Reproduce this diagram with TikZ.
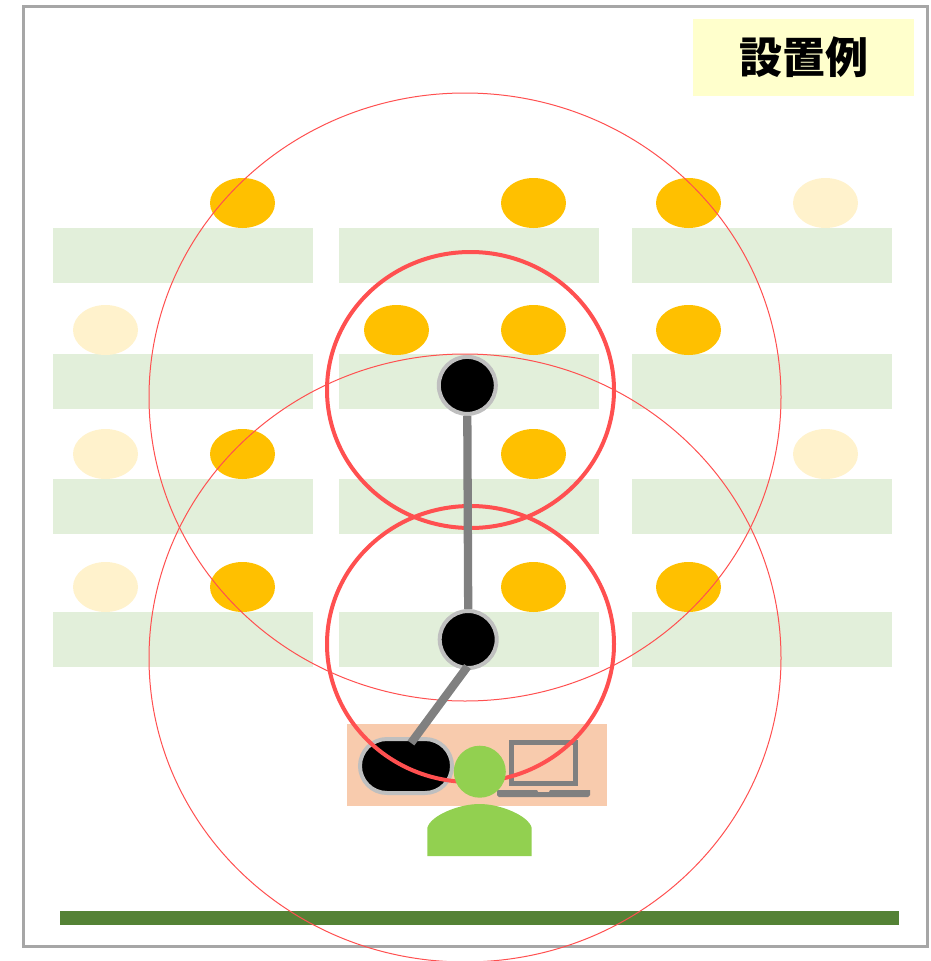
\documentclass[tikz,border=0pt]{standalone}
\usepackage{fontspec}
\newfontfamily\cjk{Noto Sans CJK JP}
\definecolor{deskgreen}{HTML}{E2EFDA}
\definecolor{seatfull}{HTML}{FFC000}
\definecolor{seatfree}{HTML}{FFF2CC}
\definecolor{rangered}{HTML}{FF5050}
\definecolor{linkgrey}{HTML}{808080}
\definecolor{hubrim}{HTML}{BFBFBF}
\definecolor{framegrey}{HTML}{A6A6A6}
\definecolor{basepeach}{HTML}{F8CBAD}
\definecolor{personlime}{HTML}{92D050}
\definecolor{wallgreen}{HTML}{548235}
\definecolor{notepale}{HTML}{FFFFCC}
\usetikzlibrary{shapes.geometric,shapes.misc}
\tikzset{
  seat/.style={ellipse,inner sep=0pt,minimum width=65pt,minimum height=50pt},
  hub/.style={circle,draw=hubrim,fill=black,line width=4pt,inner sep=0pt,minimum size=57pt},
  link/.style={draw=linkgrey,line width=8.3pt},
}
\begin{document}
\begin{tikzpicture}[x=1pt,y=-1pt]
        \useasboundingbox (0,0) rectangle (931,961);
        \draw[framegrey,line width=3pt] (23,6) rectangle (927,946);
        \node[fill=notepale,minimum width=221pt,minimum height=77pt,inner sep=0pt,font=\cjk\bfseries\fontsize{43}{43}\selectfont] (title) at (803.5,57.5) {設置例};
        % desks
        \foreach \y in {228,354,479,612}
            \foreach \x in {53,339,632}
                \fill[deskgreen] (\x,\y) rectangle ++(260,55);
        % seats
        \foreach \x/\y in {242.5/203,533.5/203,688.5/203,396.5/330,533.5/330,688.5/330,242.5/454,533.5/454,242.5/587,533.5/587,688.5/587}
            \node[seat,fill=seatfull] (seat\x-\y) at (\x,\y) {};
        \foreach \x/\y in {825.5/203,105.5/330,105.5/454,825.5/454,105.5/587}
            \node[seat,fill=seatfree] (free\x-\y) at (\x,\y) {};
        \fill[basepeach] (347,724) rectangle (607,806);
        \fill[wallgreen] (60,911) rectangle (899,925);
        % laptop
        \draw[linkgrey,line width=5pt] (511.5,742.5) rectangle (575.5,783.5);
        \fill[linkgrey] (497,790) -- (537,790) -- (538,792) -- (549,792) -- (550,790) -- (590,790) -- (590,795) -- (588,797) -- (499,797) -- (497,795) -- cycle;
        % base unit and access points
        \node[hub] (hubtop) at (467.3,385.4) {};
        \node[hub] (hubbottom) at (468.2,639.5) {};
        \node[rounded rectangle,draw=hubrim,fill=black,line width=4pt,inner sep=0pt,minimum width=92pt,minimum height=54pt] (baseunit) at (406,766) {};
        % ranges
        \draw[rangered,line width=1pt] (465,397) ellipse [x radius=316pt,y radius=304pt];
        \draw[rangered,line width=1pt] (465,658) ellipse [x radius=316pt,y radius=304pt];
        \draw[rangered,line width=4pt] (470.5,390) ellipse [x radius=143.5pt,y radius=138pt];
        \draw[rangered,line width=4pt] (470.5,644) ellipse [x radius=143.5pt,y radius=138pt];
        % cables
        \coordinate (unitjoin) at (411,743);
        \draw[link] (hubtop.south) -- (hubbottom.north);
        \draw[link] (467.5,666.5) -- (unitjoin);
        % person
        \node[circle,fill=personlime,inner sep=0pt,minimum size=52pt] (head) at (479.8,771.7) {};
        \fill[personlime] (427.3,856) -- (427.3,828) .. controls (430,816) and (458,804) .. (479.5,804) .. controls (501,804) and (529,816) .. (531.7,828) -- (531.7,856) -- cycle;
    \end{tikzpicture}
\end{document}
